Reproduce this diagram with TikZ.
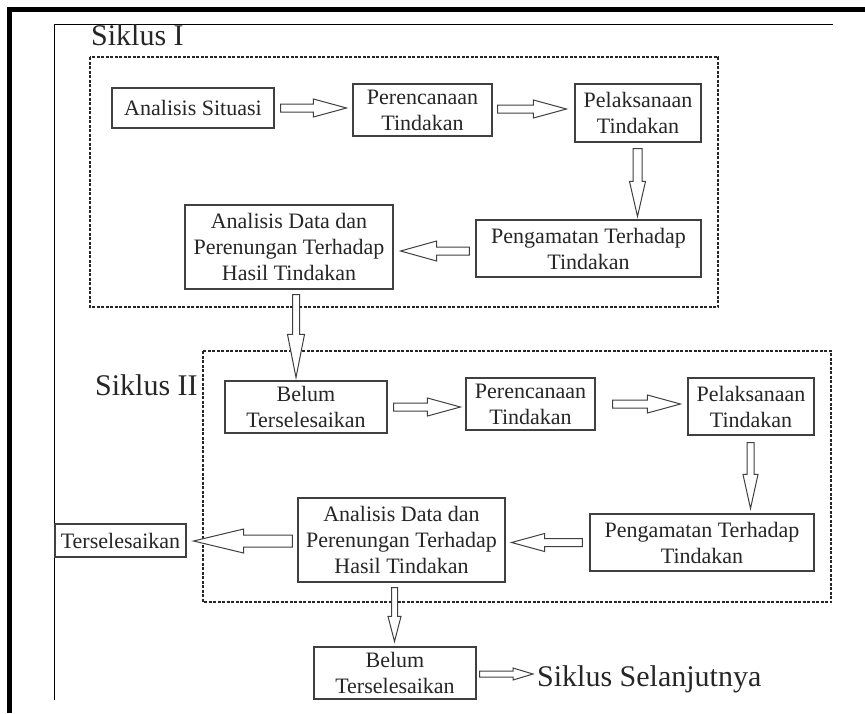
\documentclass[tikz,border=0pt]{standalone}
\usepackage{fontspec}
\setmainfont{Liberation Serif}
\usetikzlibrary{calc}
\newcommand\harr[5]{\draw[blk] let \p1=#1, \p2=#2, \n1={sign(\x2-\x1)} in
  (\x1,\y1+#3) -- ({\x2-\n1*#5},\y1+#3) -- ({\x2-\n1*#5},\y1+#4) -- (\x2,\y1)
  -- ({\x2-\n1*#5},\y1-#4) -- ({\x2-\n1*#5},\y1-#3) -- (\x1,\y1-#3) -- cycle;}
\newcommand\varr[5]{\draw[blk] let \p1=#1, \p2=#2 in
  (\x1-#3,\y1) -- (\x1-#3,\y2+#5) -- (\x1-#4,\y2+#5) -- (\x1,\y2)
  -- (\x1+#4,\y2+#5) -- (\x1+#3,\y2+#5) -- (\x1+#3,\y1) -- cycle;}
\tikzset{
  box/.style={draw=black!75, line width=1.1pt, fill=white, align=center,
    font=\fontsize{22}{26}\selectfont, text=black!85, inner sep=0pt},
  blk/.style={draw=black!75, line width=1pt, fill=white, line join=miter},
  titletext/.style={inner sep=0pt, anchor=base west, text=black!85,
    font=\fontsize{30}{34}\selectfont},
  dashbox/.style={draw=black!85, line width=1.4pt, dash pattern=on 3pt off 1.5pt},
}
\begin{document}
\begin{tikzpicture}[x=1pt,y=-1pt]
\useasboundingbox[fill=white] (0,0) rectangle (865,713);
% frame
\draw[line width=4.5pt] (9.5,713) -- (9.5,9.5) -- (865,9.5);
\draw[line width=1.2pt] (54.5,700) -- (54.5,24.5) -- (833,24.5);
% dashed cycle boxes
\draw[dashbox] (90,57) rectangle (718,307);
\draw[dashbox] (203,351) rectangle (831,602);
% titles
\node[titletext] (s1) at (91,45) {Siklus I};
\node[titletext] (s2) at (95,395) {Siklus II};
\node[titletext] (ss) at (537,686) {Siklus Selanjutnya};
% cycle I
\node[box, minimum width=162pt, minimum height=40pt] (as) at (193,108) {Analisis Situasi};
\node[box, minimum width=139pt, minimum height=52pt] (p1) at (422.5,110) {Perencanaan\\Tindakan};
\node[box, minimum width=126pt, minimum height=58pt] (l1) at (638,113) {Pelaksanaan\\Tindakan};
\node[box, minimum width=225pt, minimum height=57pt] (g1) at (588.5,248.5) {Pengamatan Terhadap\\Tindakan};
\node[box, minimum width=208pt, minimum height=84pt] (d1) at (289,247) {Analisis Data dan\\Perenungan Terhadap\\Hasil Tindakan};
% cycle II
\node[box, minimum width=162pt, minimum height=52pt] (b2) at (306,407) {Belum\\Terselesaikan};
\node[box, minimum width=129pt, minimum height=52pt] (p2) at (530.5,404) {Perencanaan\\Tindakan};
\node[box, minimum width=126pt, minimum height=57pt] (l2) at (751,406.5) {Pelaksanaan\\Tindakan};
\node[box, minimum width=224pt, minimum height=57pt] (g2) at (702,542.5) {Pengamatan Terhadap\\Tindakan};
\node[box, minimum width=207pt, minimum height=84pt] (d2) at (401.5,540) {Analisis Data dan\\Perenungan Terhadap\\Hasil Tindakan};
\node[box, minimum width=131pt, minimum height=33pt] (t) at (120.5,540.5) {Terselesaikan};
\node[box, minimum width=162pt, minimum height=52pt] (b3) at (395,673) {Belum\\Terselesaikan};
% arrows cycle I
\harr{($(as.east)+(6,0)$)}{($(p1.west)+(-6,0)$)}{4pt}{9pt}{33pt}
\harr{($(p1.east)+(5,-1)$)}{($(l1.west)+(-8,0)$)}{4pt}{9pt}{33pt}
\varr{($(l1.south)+(-0.5,6)$)}{($(g1.north)+(0,-3)$)}{4.5pt}{8pt}{35pt}
\harr{($(g1.west)+(-6,2.5)$)}{($(d1.east)+(7,0)$)}{4pt}{10pt}{36pt}
\varr{($(d1.south)+(7,5)$)}{($(b2.north)+(0,-3)$)}{3.5pt}{8.5pt}{43pt}
% arrows cycle II
\harr{($(b2.east)+(6,0)$)}{($(p2.west)+(-5,0)$)}{4pt}{9pt}{33pt}
\harr{($(p2.east)+(17,0)$)}{($(l2.west)+(-7,0)$)}{4pt}{9pt}{33pt}
\varr{($(l2.south)+(-0.5,7)$)}{($(g2.north)+(0,-5)$)}{3.5pt}{7.5pt}{34pt}
\harr{($(g2.west)+(-7,0)$)}{($(d2.east)+(6,0)$)}{4pt}{9pt}{33pt}
\harr{($(d2.west)+(-5,1)$)}{($(t.east)+(7,0)$)}{6pt}{12pt}{50pt}
\varr{($(d2.south)+(-7,5)$)}{($(b3.north)+(0,-5)$)}{3pt}{6.5pt}{25pt}
\harr{($(b3.east)+(3,1)$)}{($(ss.west)+(-4,0)$)}{3pt}{6pt}{20pt}
\end{tikzpicture}
\end{document}
